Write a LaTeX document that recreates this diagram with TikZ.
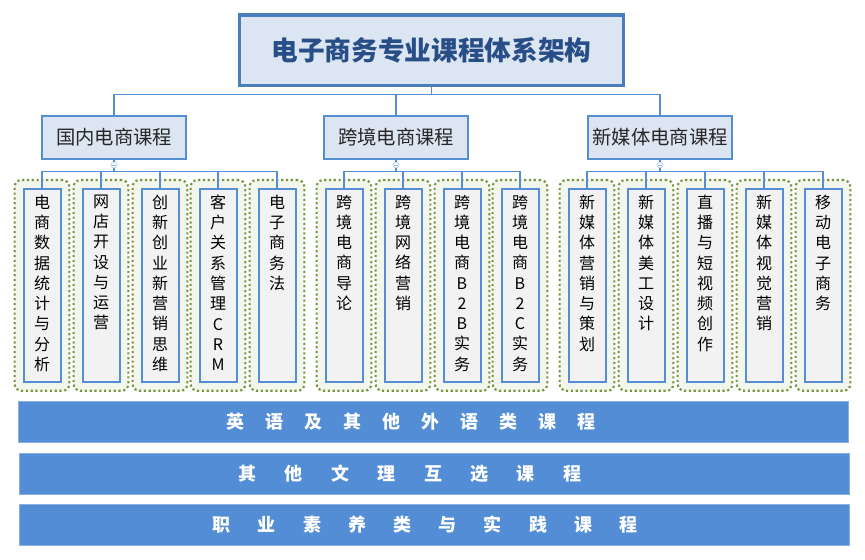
\documentclass[tikz,border=0pt]{standalone}
\usepackage{fontspec}
\setmainfont{Noto Sans CJK SC}
\definecolor{linkblue}{RGB}{85,142,213}
\definecolor{titleblue}{RGB}{74,126,187}
\definecolor{titletext}{RGB}{40,78,135}
\definecolor{boxfill}{RGB}{220,230,242}
\definecolor{leafgray}{RGB}{242,242,242}
\definecolor{dotgreen}{RGB}{119,147,60}
\definecolor{contfill}{RGB}{243,246,236}
\definecolor{bandblue}{RGB}{83,141,213}

% vertical course names and letter-spaced band texts
\newcommand{\vlist}[1]{\parbox[t][138pt][t]{20pt}{\centering\vspace*{1pt}\fontsize{12}{15.2}\selectfont #1}}
\newcommand{\spaced}[2]{\foreach \ch [count=\n] in {#2}{\ifnum\n>1\hspace{#1}\fi\ch}}

\begin{document}
\begin{tikzpicture}[x=0.75pt, y=-0.75pt,
    link/.style={draw=linkblue, line width=1.1pt},
    grp/.style={draw=linkblue, line width=1.2pt, fill=boxfill, minimum width=108pt, minimum height=32pt, inner sep=0pt, font=\fontsize{14.5}{17}\selectfont, text=black!85},
    cont/.style={draw=dotgreen, fill=contfill, dotted, line width=1.6pt, rounded corners=5pt, minimum width=41pt, minimum height=158pt, anchor=north, inner sep=0pt},
    leaf/.style={draw=linkblue, line width=1.5pt, fill=leafgray, minimum width=27.75pt, minimum height=144.75pt, anchor=north, inner sep=0pt},
    knob/.style={circle, draw=linkblue!45, fill=white, line width=0.5pt, minimum size=4.5pt, inner sep=0pt,
        path picture={\draw[linkblue!60, line width=0.4pt] ([xshift=-1.4pt]path picture bounding box.center) -- ([xshift=1.4pt]path picture bounding box.center);}},
    band/.style={fill=bandblue, draw=linkblue!70!white, line width=0.6pt, minimum width=623pt, minimum height=30.75pt, inner sep=0pt, text=white, font=\fontsize{13.5}{16}\selectfont\bfseries}]
    \useasboundingbox (0,0) rectangle (865,560);

    \node[draw=titleblue, line width=2.5pt, fill=boxfill, minimum width=288pt, minimum height=53pt, text=titletext, font=\fontsize{20}{24}\selectfont\bfseries] (T) at (431.5,50.5) {电子商务专业课程体系架构};

    \node[grp] (G1) at (114,137.5) {国内电商课程};
    \node[grp] (G2) at (396,137.5) {跨境电商课程};
    \node[grp] (G3) at (660,137.5) {新媒体电商课程};

    % dotted frames round the courses
    \foreach \x [count=\i] in {42,101,160,218,277,344,403,462,520,587,646,705,764,823}
        \node[cont] (B\i) at (\x,179) {};

    \node[leaf] (D1) at (42,188) {\vlist{电\\商\\数\\据\\统\\计\\与\\分\\析}};
    \node[leaf] (D2) at (101,188) {\vlist{网\\店\\开\\设\\与\\运\\营}};
    \node[leaf] (D3) at (160,188) {\vlist{创\\新\\创\\业\\新\\营\\销\\思\\维}};
    \node[leaf] (D4) at (218,188) {\vlist{客\\户\\关\\系\\管\\理\\C\\R\\M}};
    \node[leaf] (D5) at (277,188) {\vlist{电\\子\\商\\务\\法}};
    \node[leaf] (D6) at (344,188) {\vlist{跨\\境\\电\\商\\导\\论}};
    \node[leaf] (D7) at (403,188) {\vlist{跨\\境\\网\\络\\营\\销}};
    \node[leaf] (D8) at (462,188) {\vlist{跨\\境\\电\\商\\B\\2\\B\\实\\务}};
    \node[leaf] (D9) at (520,188) {\vlist{跨\\境\\电\\商\\B\\2\\C\\实\\务}};
    \node[leaf] (D10) at (587,188) {\vlist{新\\媒\\体\\营\\销\\与\\策\\划}};
    \node[leaf] (D11) at (646,188) {\vlist{新\\媒\\体\\美\\工\\设\\计}};
    \node[leaf] (D12) at (705,188) {\vlist{直\\播\\与\\短\\视\\频\\创\\作}};
    \node[leaf] (D13) at (764,188) {\vlist{新\\媒\\体\\视\\觉\\营\\销}};
    \node[leaf] (D14) at (823,188) {\vlist{移\\动\\电\\子\\商\\务}};

    \node[knob] (K1) at (114,165) {};
    \node[knob] (K2) at (396,165) {};
    \node[knob] (K3) at (660,165) {};

    \draw[link] (T.south) -- ++(0,7) -| (G1.north);
    \draw[link] (T.south) -- ++(0,7) -| (G2.north);
    \draw[link] (T.south) -- ++(0,7) -| (G3.north);
    \draw[link] (G1) -- (K1) (G2) -- (K2) (G3) -- (K3);
    \foreach \d in {D1,D2,D3,D4,D5} \draw[link] (K1.south) -- ++(0,3) -| (\d.north);
    \foreach \d in {D6,D7,D8,D9} \draw[link] (K2.south) -- ++(0,3) -| (\d.north);
    \foreach \d in {D10,D11,D12,D13,D14} \draw[link] (K3.south) -- ++(0,3) -| (\d.north);

    \node[band] (E1) at (433.5,421.5) {\spaced{15.7pt}{英,语,及,其,他,外,语,类,课,程}\hspace{34pt}\mbox{}};
    \node[band] (E2) at (434.5,473.5) {\spaced{21.3pt}{其,他,文,理,互,选,课,程}\hspace{37pt}\mbox{}};
    \node[band] (E3) at (434.5,524.5) {\spaced{20.4pt}{职,业,素,养,类,与,实,践,课,程}\hspace{14pt}\mbox{}};
\end{tikzpicture}
\end{document}
